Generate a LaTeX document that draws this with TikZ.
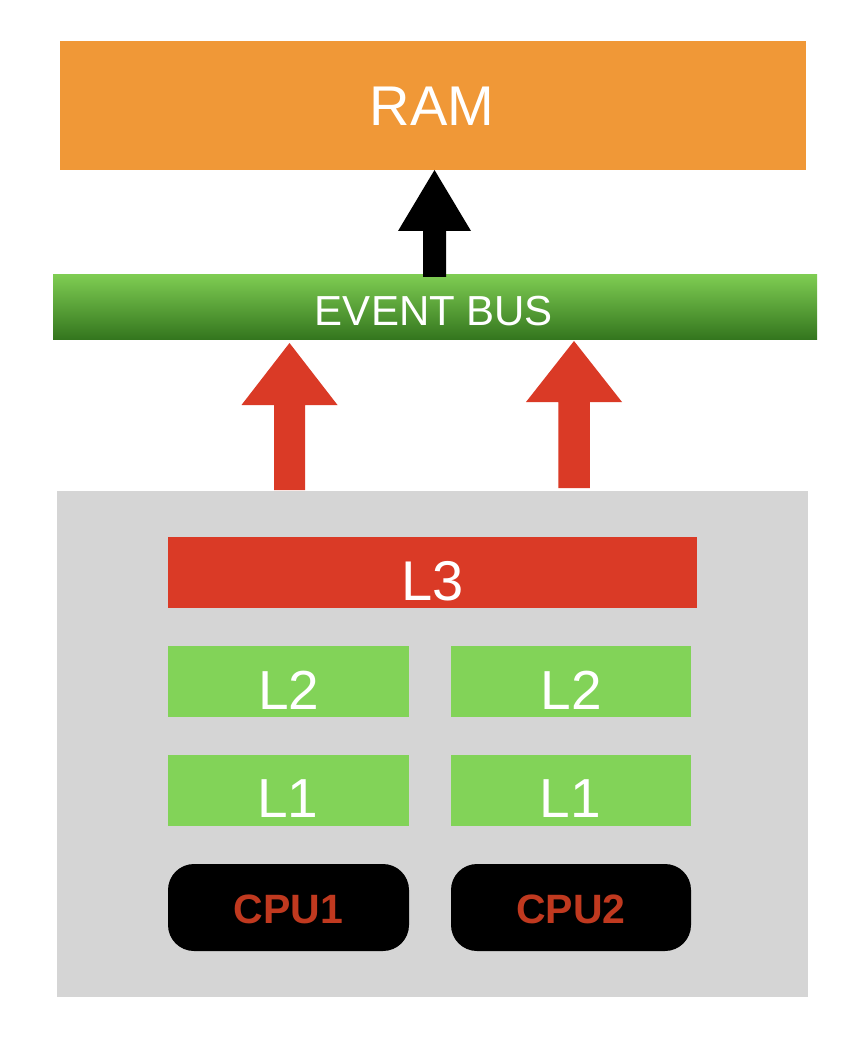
\documentclass[tikz,border=0pt]{standalone}
\usepackage{fontspec}
\setmainfont{Liberation Sans}
\usetikzlibrary{calc}
\definecolor{ramc}{HTML}{F09837}
\definecolor{redc}{HTML}{DA3A26}
\definecolor{greenc}{HTML}{82D358}
\definecolor{grayc}{HTML}{D5D5D5}
\definecolor{bustop}{HTML}{7ECC52}
\definecolor{busbot}{HTML}{34761E}
\definecolor{cputext}{HTML}{C0391F}
\newcommand\blockarrowfill[6]{%
  % #1 tail coord, #2 tip coord, #3 half shaft, #4 half head, #5 head length, #6 colour
  \fill[#6] ($(#1)+(-#3,0)$) -- ($(#2)+(-#3,#5)$) -- ($(#2)+(-#4,#5)$) -- (#2)
    -- ($(#2)+(#4,#5)$) -- ($(#2)+(#3,#5)$) -- ($(#1)+(#3,0)$) -- cycle;}
\begin{document}
\begin{tikzpicture}[x=1pt,y=-1pt,
  box/.style={draw=none,inner sep=0pt,outer sep=0pt,anchor=north west},
  lbl/.style={text=white,inner sep=0pt,anchor=base},
  cache/.style={lbl,font=\fontsize{55}{55}\selectfont},
]
\useasboundingbox[fill=white] (0,0) rectangle (864,1048);
% RAM
\node[box,fill=ramc,minimum width=746pt,minimum height=129pt] (ram) at (60,41) {};
\node[lbl,font=\fontsize{56}{56}\selectfont] (ramt) at (432,126) {RAM};
% event bus
\node[box,top color=bustop,bottom color=busbot,minimum width=764pt,minimum height=64pt] (bus) at (53,275) {};
\node[lbl,font=\fontsize{42}{42}\selectfont] (bust) at (434,325.5) {EVENT BUS};
% gray chip
\node[box,fill=grayc,minimum width=751pt,minimum height=506pt] (chip) at (57,491) {};
% L3
\node[box,fill=redc,minimum width=529pt,minimum height=71pt] (l3) at (168,537) {};
\node[cache,font=\fontsize{56}{56}\selectfont] (l3t) at (433,600) {L3};
% L2
\node[box,fill=greenc,minimum width=241pt,minimum height=71pt] (l2a) at (168,646) {};
\node[box,fill=greenc,minimum width=240pt,minimum height=71pt] (l2b) at (451,646) {};
\node[cache] (l2at) at (289,709) {L2};
\node[cache] (l2bt) at (571,709) {L2};
% L1
\node[box,fill=greenc,minimum width=241pt,minimum height=71pt] (l1a) at (168,755) {};
\node[box,fill=greenc,minimum width=240pt,minimum height=71pt] (l1b) at (451,755) {};
\node[cache] (l1at) at (288,817) {L1};
\node[cache] (l1bt) at (570,817) {L1};
% CPUs
\node[box,fill=black,rounded corners=26pt,minimum width=241pt,minimum height=87pt] (cpu1) at (168,864) {};
\node[box,fill=black,rounded corners=26pt,minimum width=240pt,minimum height=87pt] (cpu2) at (451,864) {};
\node[lbl,text=cputext,font=\fontsize{41}{41}\selectfont\bfseries] (cpu1t) at (288.5,923.5) {CPU1};
\node[lbl,text=cputext,font=\fontsize{41}{41}\selectfont\bfseries] (cpu2t) at (571,923.5) {CPU2};
% arrows
\coordinate (k0) at (434.5,277);
\coordinate (k1) at (434.5,170);
\blockarrowfill{k0}{k1}{11.5}{36.5}{61}{black}
\coordinate (r0) at (289.5,490);
\coordinate (r1) at (289.5,343);
\blockarrowfill{r0}{r1}{15.5}{48}{62}{redc}
\coordinate (s0) at (574,488);
\coordinate (s1) at (574,341);
\blockarrowfill{s0}{s1}{15.75}{48}{61}{redc}
\end{tikzpicture}
\end{document}
